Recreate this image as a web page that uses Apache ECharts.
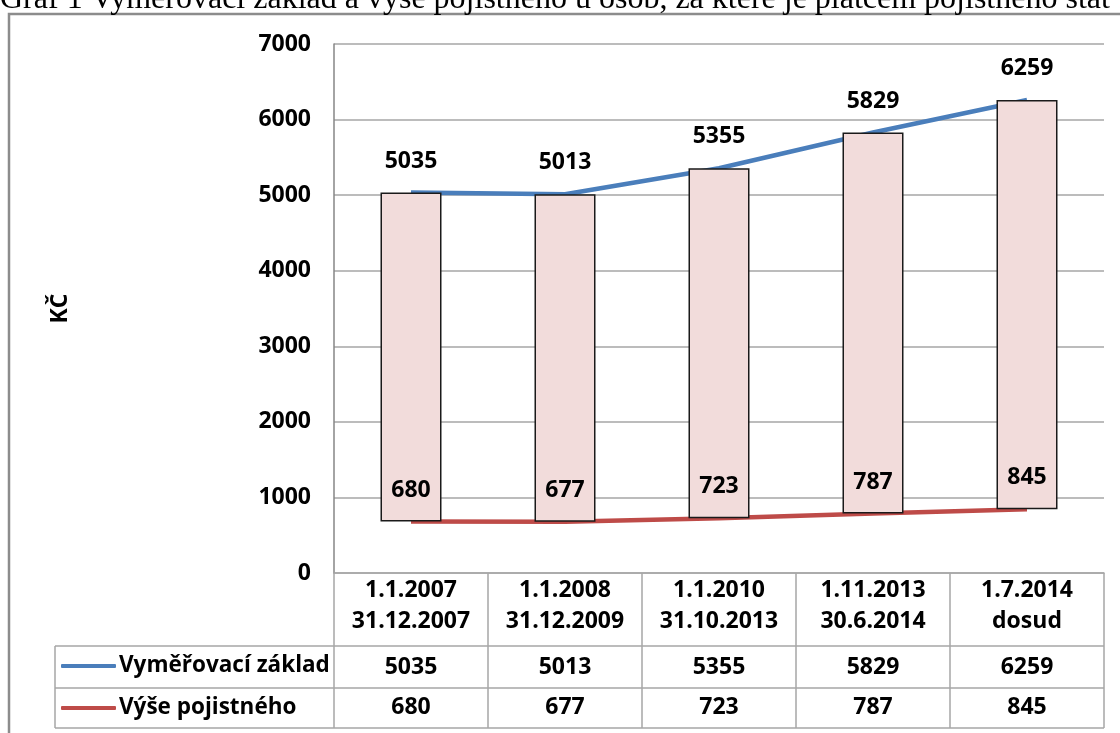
<!DOCTYPE html>
<html>
<head>
<meta charset="utf-8">
<script src="https://cdn.jsdelivr.net/npm/echarts@6/dist/echarts.min.js"></script>
<style>
html,body{margin:0;padding:0;background:#fff;}
#chart{width:1120px;height:733px;}
</style>
</head>
<body>
<div id="chart"></div>
<script>
// data
var categories = ['1.1.2007\n31.12.2007', '1.1.2008\n31.12.2009', '1.1.2010\n31.10.2013', '1.11.2013\n30.6.2014', '1.7.2014\ndosud'];
var zakladName = 'Vyměřovací základ';
var pojistneName = 'Výše pojistného';
var zaklad = [5035, 5013, 5355, 5829, 6259];
var pojistne = [680, 677, 723, 787, 845];
var yTicks = [0, 1000, 2000, 3000, 4000, 5000, 6000, 7000];

var FONT = '"Open Sans", "DejaVu Sans", sans-serif';
var FS = 23;
var GRID_LEFT = 334, GRID_RIGHT = 1104, AXIS_Y = 573, TABLE_ROW1 = 646, TABLE_ROW2 = 688, TABLE_BOTTOM = 728, LEGEND_LEFT = 55;
var lineCol = '#a6a6a6';

var chart = echarts.init(document.getElementById('chart'), null, {renderer: 'canvas'});

// rozdil pro plovouci sloupce (up/down bars)
var rozdil = [];
for (var i = 0; i < zaklad.length; i++) {
	rozdil[i] = zaklad[i] - pojistne[i];
}

var tableLines = [];
[TABLE_ROW1, TABLE_ROW2, TABLE_BOTTOM].forEach(function (y) {
	tableLines.push({type: 'line', shape: {x1: LEGEND_LEFT, y1: y, x2: GRID_RIGHT, y2: y}, style: {stroke: lineCol, lineWidth: 1.5}, silent: true});
});
tableLines.push({type: 'line', shape: {x1: LEGEND_LEFT, y1: TABLE_ROW1, x2: LEGEND_LEFT, y2: TABLE_BOTTOM}, style: {stroke: lineCol, lineWidth: 1.5}, silent: true});

var option = {
	animation: false,
	backgroundColor: '#fff',
	graphic: [
		{type: 'rect', shape: {x: 9, y: 14, width: 1200, height: 800}, style: {fill: 'none', stroke: '#8c8c8c', lineWidth: 2.5}, silent: true},
		{type: 'text', x: 0, y: 16, style: {text: 'Graf 1 Vyměřovací základ a výše pojistného u osob, za které je plátcem pojistného stát', font: '32px "Liberation Serif", serif', fill: '#000', verticalAlign: 'bottom', align: 'left'}, silent: true}
	].concat(tableLines),
	grid: {left: GRID_LEFT, right: 1120 - GRID_RIGHT, top: 44, bottom: 733 - AXIS_Y},
	legend: {
		data: [
			{name: zakladName, itemStyle: {color: '#4a7ebb'}},
			{name: pojistneName, itemStyle: {color: '#be4b48'}}
		],
		orient: 'vertical',
		left: LEGEND_LEFT + 6,
		top: TABLE_ROW1 - 1,
		icon: 'roundRect',
		itemWidth: 55,
		itemHeight: 4,
		itemGap: 0,
		padding: 0,
		selectedMode: false,
		textStyle: {fontFamily: FONT, fontWeight: 'bold', fontSize: FS - 0.5, color: '#000', lineHeight: 42, padding: [0, 0, 0, -2]}
	},
	xAxis: [
		{
			type: 'category',
			data: categories,
			boundaryGap: true,
			axisLine: {lineStyle: {color: lineCol, width: 1.5}},
			axisTick: {show: true, interval: 0, length: TABLE_BOTTOM - AXIS_Y, lineStyle: {color: lineCol, width: 1.5}},
			axisLabel: {interval: 0, margin: 2, fontFamily: FONT, fontWeight: 'bold', fontSize: FS, lineHeight: 31, color: '#000'}
		},
		{
			type: 'category',
			data: zaklad.map(String),
			position: 'bottom',
			axisLine: {show: false},
			axisTick: {show: false},
			axisLabel: {interval: 0, margin: 94, verticalAlign: 'middle', fontFamily: FONT, fontWeight: 'bold', fontSize: FS, color: '#000'}
		},
		{
			type: 'category',
			data: pojistne.map(String),
			position: 'bottom',
			axisLine: {show: false},
			axisTick: {show: false},
			axisLabel: {interval: 0, margin: 134, verticalAlign: 'middle', fontFamily: FONT, fontWeight: 'bold', fontSize: FS, color: '#000'}
		}
	],
	yAxis: {
		type: 'value',
		min: yTicks[0],
		max: yTicks[yTicks.length - 1],
		interval: 1000,
		name: 'KČ',
		nameLocation: 'middle',
		nameGap: 262,
		nameTextStyle: {fontFamily: FONT, fontWeight: 'bold', fontSize: FS, color: '#000'},
		axisLine: {show: true, lineStyle: {color: '#868686', width: 1.5}},
		axisTick: {show: false},
		axisLabel: {margin: 23, fontFamily: FONT, fontWeight: 'bold', fontSize: FS, color: '#000', formatter: function (v) { return String(v); }},
		splitLine: {lineStyle: {color: lineCol, width: 1.5}}
	},
	series: [
		{
			name: zakladName,
			type: 'line',
			data: zaklad,
			symbol: 'none',
			z: 2,
			lineStyle: {color: '#4a7ebb', width: 4.5},
			itemStyle: {color: '#4a7ebb'}
		},
		{
			name: pojistneName,
			type: 'line',
			data: pojistne,
			symbol: 'none',
			z: 2,
			lineStyle: {color: '#be4b48', width: 4.5},
			itemStyle: {color: '#be4b48'}
		},
		{
			name: 'base',
			type: 'bar',
			stack: 'ud',
			data: pojistne,
			barWidth: 61,
			z: 3,
			itemStyle: {color: 'rgba(0,0,0,0)'},
			silent: true
		},
		{
			name: 'updown',
			type: 'bar',
			stack: 'ud',
			data: rozdil,
			barWidth: 61,
			z: 3,
			itemStyle: {color: '#f2dcdb', borderColor: '#1a1a1a', borderWidth: 1.5},
			silent: true
		},
		// popisky hodnot: nad sloupcem vymerovaci zaklad, dole pojistne
		{
			name: 'labelsTop',
			type: 'bar',
			stack: 'lbl',
			data: zaklad,
			barWidth: 61,
			z: 4,
			itemStyle: {color: 'rgba(0,0,0,0)'},
			label: {show: true, position: 'top', distance: 20, fontFamily: FONT, fontWeight: 'bold', fontSize: FS, color: '#000'},
			silent: true
		},
		{
			name: 'labelsBottom',
			type: 'bar',
			data: pojistne,
			barWidth: 61,
			barGap: '-100%',
			z: 4,
			itemStyle: {color: 'rgba(0,0,0,0)'},
			label: {show: true, position: 'top', distance: 20, fontFamily: FONT, fontWeight: 'bold', fontSize: FS, color: '#000'},
			silent: true
		}
	]
};

chart.setOption(option);
</script>
</body>
</html>
